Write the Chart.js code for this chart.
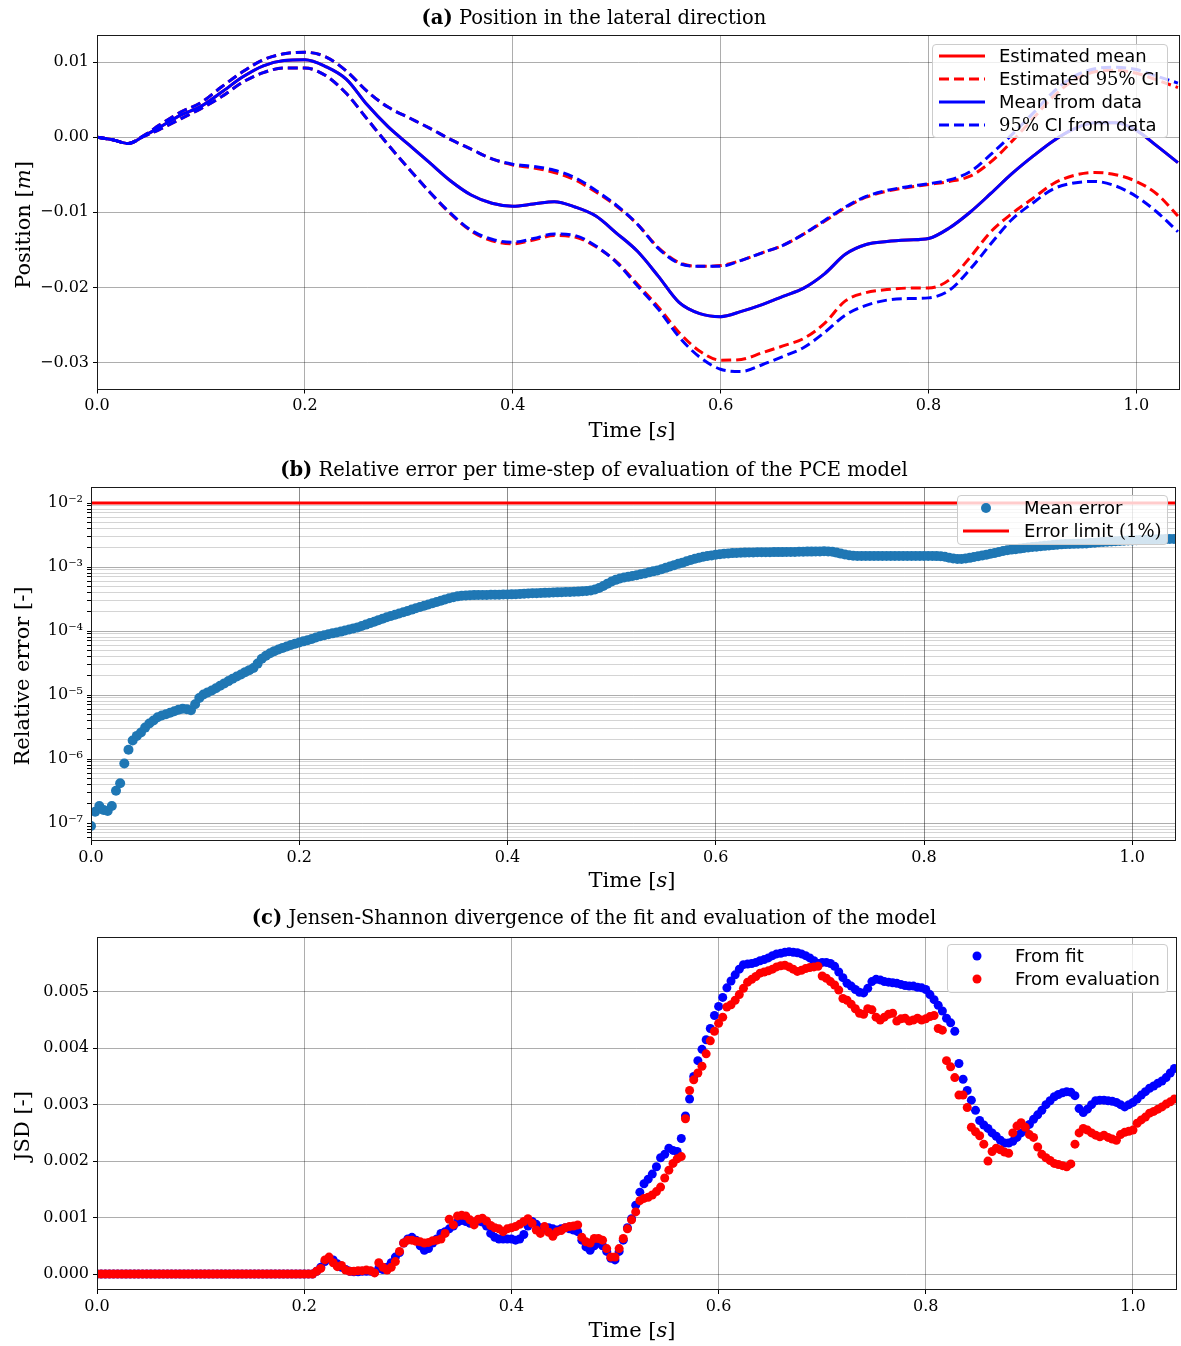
<!DOCTYPE html>
<html lang="en">
<head>
<meta charset="utf-8">
<title>PCE model evaluation</title>
<script src="https://cdn.jsdelivr.net/npm/chart.js@4.4.1/dist/chart.umd.min.js"></script>
<style>
  body { margin: 0; background: #fff; }
  #figure { position: relative; width: 1181px; height: 1346px; overflow: hidden; font-family: "DejaVu Serif", serif; color: #000; }
  #figure canvas { position: absolute; left: 0; }
  .txt { position: absolute; white-space: nowrap; transform: translate(-50%, -50%); line-height: 1; }
  .title { font-size: 19.5px; }
  .xlabel, .ylabel { font-size: 21px; }
  .ylabel { transform: translate(-50%, -50%) rotate(-90deg); }
  .legend { position: absolute; z-index: 2; box-sizing: border-box; background: rgba(255, 255, 255, 0.8); border: 1px solid #cccccc; border-radius: 4px; font-family: "DejaVu Sans", sans-serif; font-size: 18px; }
  .legend .row { position: absolute; left: 0; height: 22px; line-height: 22px; white-space: nowrap; }
  .legend svg, .legend .label { position: absolute; top: 0; }
  .math { font-family: "DejaVu Serif", serif; }
</style>
</head>
<body>
<div id="figure">
  <canvas id="posChart" width="1181" height="450" style="top:0"></canvas>
  <canvas id="errChart" width="1181" height="450" style="top:450px"></canvas>
  <canvas id="jsdChart" width="1181" height="446" style="top:900px"></canvas>

  <div class="txt title" style="left:594px; top:18px"><b>(a)</b> Position in the lateral direction</div>
  <div class="txt title" style="left:594px; top:470px"><b>(b)</b> Relative error per time-step of evaluation of the PCE model</div>
  <div class="txt title" style="left:594px; top:918px"><b>(c)</b> Jensen-Shannon divergence of the fit and evaluation of the model</div>

  <div class="txt xlabel" style="left:632px; top:430px">Time [<i>s</i>]</div>
  <div class="txt xlabel" style="left:632px; top:880px">Time [<i>s</i>]</div>
  <div class="txt xlabel" style="left:632px; top:1330px">Time [<i>s</i>]</div>

  <div class="txt ylabel" style="left:23px; top:225px">Position [<i>m</i>]</div>
  <div class="txt ylabel" style="left:22px; top:676px">Relative error [-]</div>
  <div class="txt ylabel" style="left:22px; top:1126px">JSD [-]</div>
</div>

<script>
// ---- (a) lateral position [m] ----
const timeA = [0, 0.015, 0.03, 0.045, 0.06,
  0.08, 0.1, 0.12, 0.14, 0.16, 0.18, 0.2, 0.22, 0.24, 0.26, 0.28, 0.3, 0.32, 0.34, 0.36, 0.38,
  0.4, 0.42, 0.44, 0.46, 0.48, 0.5, 0.52, 0.54, 0.56, 0.58, 0.6, 0.62, 0.64, 0.66, 0.68, 0.7,
  0.72, 0.74, 0.76, 0.78, 0.8, 0.82, 0.84, 0.86, 0.88, 0.9, 0.92, 0.94, 0.96, 0.98, 1, 1.02, 1.04];

const meanEst = [0, -0.00035, -0.00085, 0.00015, 0.0013,
  0.0029, 0.0041, 0.006, 0.008, 0.0095, 0.0102, 0.0103, 0.0094, 0.0077, 0.0043, 0.0014, -0.001, -0.0034, -0.0058, -0.0077, -0.0088,
  -0.0092, -0.0089, -0.0086, -0.0093, -0.0105, -0.0128, -0.0152, -0.0185, -0.022, -0.0235, -0.0239, -0.0232, -0.0223, -0.0212, -0.0201, -0.0182,
  -0.0156, -0.0143, -0.0139, -0.0137, -0.0135, -0.0121, -0.01, -0.0075, -0.0049, -0.0026, -0.0005, 0.0011, 0.0019, 0.0019, 0.0009, -0.0012, -0.0034];
const meanData = [0, -0.00035, -0.00085, 0.00015, 0.0013,
  0.0029, 0.0041, 0.006, 0.008, 0.0095, 0.0102, 0.0103, 0.0094, 0.0077, 0.0043, 0.0014, -0.001, -0.0034, -0.0058, -0.0077, -0.0088,
  -0.0092, -0.0089, -0.0086, -0.0093, -0.0105, -0.0128, -0.0152, -0.0185, -0.022, -0.0235, -0.0239, -0.0232, -0.0223, -0.0212, -0.0201, -0.0182,
  -0.0156, -0.0143, -0.0139, -0.0137, -0.0135, -0.0121, -0.01, -0.0075, -0.0049, -0.0026, -0.0005, 0.0011, 0.0019, 0.0019, 0.0009, -0.0012, -0.0034];

const upperEst = [0, -0.00035, -0.00085, 0.0002, 0.0016,
  0.0033, 0.0046, 0.0067, 0.0087, 0.0103, 0.0111, 0.0113, 0.0107, 0.0088, 0.0061, 0.004, 0.0026, 0.0012, -0.0003, -0.0016, -0.0029,
  -0.0037, -0.0041, -0.0047, -0.0057, -0.0073, -0.0092, -0.0116, -0.0147, -0.0167, -0.0172, -0.0171, -0.0164, -0.0154, -0.0144, -0.0129, -0.0112,
  -0.0094, -0.008, -0.0072, -0.0067, -0.0063, -0.0059, -0.0052, -0.0033, -0.0006, 0.0024, 0.0054, 0.0076, 0.0087, 0.0089, 0.0085, 0.0076, 0.0066];
const lowerEst = [0, -0.00035, -0.00085, 0.0001, 0.001,
  0.0024, 0.0038, 0.0054, 0.0073, 0.0086, 0.0092, 0.0092, 0.0082, 0.0058, 0.0024, -0.001, -0.0042, -0.0073, -0.0102, -0.0125, -0.0138,
  -0.0142, -0.0137, -0.0131, -0.0133, -0.0146, -0.0166, -0.0196, -0.0226, -0.026, -0.0285, -0.0297, -0.0296, -0.0287, -0.0278, -0.0268, -0.0248,
  -0.0218, -0.0207, -0.0203, -0.0201, -0.0201, -0.019, -0.016, -0.0126, -0.0102, -0.0082, -0.0062, -0.0051, -0.0047, -0.005, -0.0059, -0.0076, -0.0105];

const upperData = [0, -0.00035, -0.00085, 0.0002, 0.0016,
  0.0033, 0.0046, 0.0067, 0.0087, 0.0103, 0.0111, 0.0113, 0.0107, 0.0088, 0.0061, 0.004, 0.0026, 0.0012, -0.0003, -0.0016, -0.0029,
  -0.0036, -0.0039, -0.0044, -0.0054, -0.0071, -0.0091, -0.0116, -0.0148, -0.0168, -0.0172, -0.0172, -0.0164, -0.0154, -0.0144, -0.0129, -0.0111,
  -0.0093, -0.0079, -0.0071, -0.0066, -0.0062, -0.0057, -0.0046, -0.0023, 0.0003, 0.0031, 0.006, 0.0081, 0.0091, 0.0093, 0.009, 0.0081, 0.0072];
const lowerData = [0, -0.00035, -0.00085, 0.0001, 0.001,
  0.0024, 0.0038, 0.0054, 0.0073, 0.0086, 0.0092, 0.0092, 0.0082, 0.0058, 0.0024, -0.001, -0.0042, -0.0073, -0.0101, -0.0124, -0.0136,
  -0.014, -0.0135, -0.0129, -0.0131, -0.0145, -0.0167, -0.0198, -0.0229, -0.0266, -0.0293, -0.0309, -0.0312, -0.0303, -0.0292, -0.028, -0.026,
  -0.0237, -0.0224, -0.0217, -0.0215, -0.0214, -0.0204, -0.0176, -0.0142, -0.011, -0.0088, -0.0069, -0.0061, -0.0059, -0.0065, -0.0079, -0.01, -0.0126];

// ---- (b) and (c): one value per evaluation time step (dt = 0.004 s) ----
const timeSteps = Array.from({ length: 261 }, (_, i) => (i * 4) / 1000);

const meanError = [
  9.0e-8, 1.5e-7, 1.85e-7, 1.6e-7, 1.55e-7, 1.85e-7, 3.2e-7, 4.2e-7, 8.5e-7, 1.4e-6,
  1.95e-6, 2.3e-6, 2.6e-6, 3.1e-6, 3.6e-6, 4.0e-6, 4.5e-6, 4.8e-6, 5.0e-6, 5.3e-6,
  5.6e-6, 5.9e-6, 6.1e-6, 6.0e-6, 5.8e-6, 7.2e-6, 9.0e-6, 1.02e-5, 1.1e-5, 1.18e-5,
  1.28e-5, 1.4e-5, 1.52e-5, 1.65e-5, 1.8e-5, 1.95e-5, 2.1e-5, 2.28e-5, 2.45e-5, 2.65e-5,
  3.1e-5, 3.7e-5, 4.1e-5, 4.5e-5, 4.85e-5, 5.15e-5, 5.45e-5, 5.75e-5, 6.05e-5, 6.35e-5,
  6.6e-5, 6.9e-5, 7.2e-5, 7.5e-5, 7.9e-5, 8.3e-5, 8.6e-5, 8.9e-5, 9.2e-5, 9.5e-5,
  9.8e-5, 1.02e-4, 1.06e-4, 1.1e-4, 1.14e-4, 1.2e-4, 1.26e-4, 1.33e-4, 1.4e-4, 1.48e-4,
  1.56e-4, 1.64e-4, 1.72e-4, 1.8e-4, 1.88e-4, 1.97e-4, 2.06e-4, 2.16e-4, 2.27e-4, 2.38e-4,
  2.49e-4, 2.6e-4, 2.72e-4, 2.85e-4, 2.98e-4, 3.12e-4, 3.26e-4, 3.38e-4, 3.48e-4, 3.55e-4,
  3.6e-4, 3.62e-4, 3.64e-4, 3.65e-4, 3.66e-4, 3.67e-4, 3.68e-4, 3.69e-4, 3.7e-4, 3.71e-4,
  3.72e-4, 3.74e-4, 3.76e-4, 3.8e-4, 3.84e-4, 3.86e-4, 3.88e-4, 3.9e-4, 3.92e-4, 3.95e-4,
  3.98e-4, 4.0e-4, 4.02e-4, 4.04e-4, 4.06e-4, 4.08e-4, 4.1e-4, 4.13e-4, 4.17e-4, 4.22e-4,
  4.3e-4, 4.45e-4, 4.7e-4, 5.05e-4, 5.5e-4, 5.95e-4, 6.3e-4, 6.6e-4, 6.85e-4, 7.05e-4,
  7.25e-4, 7.45e-4, 7.7e-4, 7.95e-4, 8.25e-4, 8.55e-4, 8.85e-4, 9.25e-4, 9.7e-4, 1.02e-3,
  1.07e-3, 1.12e-3, 1.17e-3, 1.23e-3, 1.29e-3, 1.35e-3, 1.4e-3, 1.45e-3, 1.49e-3, 1.52e-3,
  1.55e-3, 1.58e-3, 1.61e-3, 1.63e-3, 1.65e-3, 1.66e-3, 1.67e-3, 1.68e-3, 1.69e-3, 1.69e-3,
  1.7e-3, 1.7e-3, 1.7e-3, 1.7e-3, 1.71e-3, 1.71e-3, 1.71e-3, 1.72e-3, 1.72e-3, 1.72e-3,
  1.73e-3, 1.73e-3, 1.74e-3, 1.74e-3, 1.75e-3, 1.75e-3, 1.76e-3, 1.75e-3, 1.73e-3, 1.68e-3,
  1.62e-3, 1.57e-3, 1.53e-3, 1.5e-3, 1.49e-3, 1.49e-3, 1.49e-3, 1.49e-3, 1.49e-3, 1.49e-3,
  1.49e-3, 1.49e-3, 1.49e-3, 1.49e-3, 1.49e-3, 1.49e-3, 1.49e-3, 1.49e-3, 1.49e-3, 1.49e-3,
  1.49e-3, 1.49e-3, 1.49e-3, 1.48e-3, 1.47e-3, 1.45e-3, 1.4e-3, 1.36e-3, 1.34e-3, 1.34e-3,
  1.36e-3, 1.39e-3, 1.43e-3, 1.47e-3, 1.51e-3, 1.56e-3, 1.61e-3, 1.66e-3, 1.72e-3, 1.78e-3,
  1.83e-3, 1.87e-3, 1.9e-3, 1.94e-3, 1.98e-3, 2.02e-3, 2.05e-3, 2.08e-3, 2.11e-3, 2.14e-3,
  2.17e-3, 2.2e-3, 2.23e-3, 2.26e-3, 2.28e-3, 2.29e-3, 2.3e-3, 2.31e-3, 2.32e-3, 2.34e-3,
  2.37e-3, 2.4e-3, 2.43e-3, 2.46e-3, 2.49e-3, 2.51e-3, 2.53e-3, 2.55e-3, 2.57e-3, 2.59e-3,
  2.6e-3, 2.62e-3, 2.64e-3, 2.66e-3, 2.68e-3, 2.7e-3, 2.71e-3, 2.72e-3, 2.73e-3, 2.74e-3, 2.75e-3];
const ERROR_LIMIT = 0.01;

// JSD values listed in units of 1e-3
const jsdFit = [
  0, 0, 0, 0, 0, 0, 0, 0, 0, 0,
  0, 0, 0, 0, 0, 0, 0, 0, 0, 0,
  0, 0, 0, 0, 0, 0, 0, 0, 0, 0,
  0, 0, 0, 0, 0, 0, 0, 0, 0, 0,
  0, 0, 0, 0, 0, 0, 0, 0, 0, 0,
  0, 0, 0,
  0.05, 0.12, 0.22, 0.28, 0.25, 0.18, 0.12, 0.08, 0.05, 0.04,
  0.04, 0.05, 0.05, 0.05, 0.03, 0.1, 0.08, 0.12, 0.2, 0.3,
  0.38, 0.55, 0.62, 0.65, 0.6, 0.5, 0.42, 0.45, 0.55, 0.62,
  0.72, 0.75, 0.8, 0.85, 0.92, 0.95, 0.93, 0.9, 0.92, 0.94,
  0.92, 0.85, 0.72, 0.65, 0.62, 0.62, 0.62, 0.62, 0.6, 0.62,
  0.7, 0.85, 0.93, 0.88, 0.82, 0.8, 0.82, 0.8, 0.78, 0.8,
  0.82, 0.8, 0.78, 0.75, 0.6, 0.48, 0.42, 0.5, 0.55, 0.5,
  0.4, 0.28, 0.25, 0.4, 0.6, 0.82, 0.98, 1.22, 1.45, 1.6,
  1.68, 1.77, 1.9, 2.06, 2.12, 2.23, 2.19, 2.17, 2.4, 2.8,
  3.1, 3.5, 3.78, 3.98, 4.15, 4.35, 4.58, 4.74, 4.9, 5.07,
  5.19, 5.3, 5.4, 5.48, 5.49, 5.5, 5.52, 5.55, 5.57, 5.6,
  5.64, 5.67, 5.68, 5.7, 5.71, 5.7, 5.69, 5.67, 5.64, 5.6,
  5.55, 5.5, 5.52, 5.52, 5.5, 5.45, 5.35, 5.25, 5.15, 5.1,
  5.04, 4.99, 4.98, 5.06, 5.18, 5.22, 5.21, 5.18, 5.17, 5.16,
  5.15, 5.13, 5.11, 5.1, 5.1, 5.08, 5.07, 5.04, 4.95, 4.86,
  4.76, 4.66, 4.53, 4.45, 4.3, 3.73, 3.45, 3.25, 3.08, 2.9,
  2.72, 2.64, 2.58, 2.5, 2.44, 2.37, 2.32, 2.32, 2.35, 2.42,
  2.5, 2.55, 2.65, 2.74, 2.82, 2.9, 3.0, 3.07, 3.14, 3.18,
  3.21, 3.23, 3.22, 3.16, 2.93, 2.86, 2.92, 3.0, 3.07, 3.08,
  3.08, 3.07, 3.06, 3.04, 3.0, 2.96, 3.0, 3.04, 3.1, 3.17,
  3.23, 3.29, 3.33, 3.38, 3.42, 3.48, 3.56, 3.64];
const jsdEval = [
  0, 0, 0, 0, 0, 0, 0, 0, 0, 0,
  0, 0, 0, 0, 0, 0, 0, 0, 0, 0,
  0, 0, 0, 0, 0, 0, 0, 0, 0, 0,
  0, 0, 0, 0, 0, 0, 0, 0, 0, 0,
  0, 0, 0, 0, 0, 0, 0, 0, 0, 0,
  0, 0, 0,
  0.05, 0.1, 0.25, 0.3, 0.2, 0.13, 0.15, 0.07, 0.05, 0.05,
  0.06, 0.06, 0.07, 0.06, 0.02, 0.2, 0.12, 0.07, 0.12, 0.22,
  0.4, 0.55, 0.6, 0.6, 0.58, 0.57, 0.55, 0.56, 0.59, 0.6,
  0.62, 0.72, 0.97, 0.87, 1.03, 1.04, 1.03, 0.96, 0.87, 0.97,
  0.99, 0.94, 0.86, 0.82, 0.8, 0.75, 0.8, 0.82, 0.84, 0.88,
  0.93, 0.98, 0.9, 0.78, 0.72, 0.84, 0.74, 0.67, 0.75, 0.77,
  0.82, 0.84, 0.85, 0.87, 0.65, 0.57, 0.55, 0.63, 0.63, 0.6,
  0.45, 0.3, 0.3, 0.45, 0.63, 0.8, 0.96, 1.1, 1.3, 1.34,
  1.36, 1.4, 1.46, 1.54, 1.7, 1.84, 1.96, 2.04, 2.08, 2.75,
  3.25, 3.44, 3.56, 3.68, 3.9, 4.13, 4.3, 4.44, 4.55, 4.73,
  4.77, 4.85, 4.95, 5.06, 5.17, 5.22, 5.27, 5.33, 5.35, 5.37,
  5.4, 5.44, 5.46, 5.47, 5.44, 5.4, 5.36, 5.38, 5.41, 5.43,
  5.44, 5.45, 5.28, 5.24, 5.18, 5.12, 5.03, 4.88, 4.85, 4.78,
  4.7, 4.62, 4.6, 4.7, 4.68, 4.55, 4.5, 4.55, 4.6, 4.62,
  4.48, 4.52, 4.53, 4.48, 4.5, 4.53, 4.5, 4.52, 4.56, 4.58,
  4.35, 4.32, 3.78, 3.67, 3.48, 3.17, 3.17, 2.95, 2.6, 2.52,
  2.45, 2.3, 2.0, 2.17, 2.23, 2.2, 2.16, 2.14, 2.5, 2.62,
  2.68, 2.6, 2.47, 2.42, 2.25, 2.12, 2.06, 2.01, 1.96, 1.94,
  1.92, 1.9, 1.95, 2.3, 2.5, 2.58, 2.55, 2.5, 2.46, 2.43,
  2.46, 2.42, 2.39, 2.37, 2.47, 2.51, 2.53, 2.55, 2.67, 2.73,
  2.78, 2.85, 2.88, 2.92, 2.96, 3.01, 3.05, 3.1];

// ---- tick positions ----
const xTicks = [0, 0.2, 0.4, 0.6, 0.8, 1.0];
const posTicks = [-0.03, -0.02, -0.01, 0, 0.01];
const jsdTicks = [0, 0.001, 0.002, 0.003, 0.004, 0.005];
const errDecades = [-8, -7, -6, -5, -4, -3, -2];

const X_MAX = 1.042;
const ERR_MIN = Math.pow(10, -7.28);
const ERR_MAX = Math.pow(10, -1.75);

Chart.defaults.font.family = '"DejaVu Serif", serif';
Chart.defaults.color = '#000';

const tickFont = { family: '"DejaVu Serif", serif', size: 16 };
const SUP = { '-': '\u207b', '0': '\u2070', '1': '\u00b9', '2': '\u00b2', '3': '\u00b3', '4': '\u2074', '5': '\u2075', '6': '\u2076', '7': '\u2077', '8': '\u2078', '9': '\u2079' };
const sup = n => String(n).split('').map(c => SUP[c]).join('');
const minus = s => s.replace('-', '\u2212');
const pts = (xs, ys, k = 1) => ys.map((y, i) => ({ x: xs[i], y: y * k }));

// black box around the plotting area, like axis spines
const frame = {
  id: 'frame',
  afterDraw(chart) {
    const { ctx, chartArea: a } = chart;
    ctx.save();
    ctx.strokeStyle = '#1a1a1a';
    ctx.lineWidth = 1;
    ctx.strokeRect(Math.round(a.left) + 0.5, Math.round(a.top) + 0.5,
      Math.round(a.right - a.left) - 1, Math.round(a.bottom - a.top) - 1);
    ctx.restore();
  }
};

function xAxis(gridColor) {
  return {
    type: 'linear',
    min: 0,
    max: X_MAX,
    afterBuildTicks: s => { s.ticks = xTicks.map(value => ({ value })); },
    afterFit: s => { s.height = 30; },
    ticks: { autoSkip: false, maxRotation: 0, padding: 3, font: tickFont, callback: v => v.toFixed(1) },
    grid: { color: gridColor, tickColor: '#000', tickLength: 4 },
    border: { display: false }
  };
}

function baseOptions(padding, scales) {
  return {
    responsive: false,
    animation: false,
    devicePixelRatio: 1,
    events: [],
    layout: { padding },
    plugins: { legend: { display: false }, tooltip: { enabled: false } },
    scales
  };
}

// (a) position
const posChart = new Chart(document.getElementById('posChart'), {
  type: 'line',
  data: {
    datasets: [
      { label: 'Mean from data', data: pts(timeA, meanData), borderColor: '#0000ff', borderWidth: 3, order: 1 },
      { label: '95% CI from data', data: pts(timeA, upperData), borderColor: '#0000ff', borderWidth: 3, borderDash: [10, 5], order: 1 },
      { label: '95% CI from data (lower)', data: pts(timeA, lowerData), borderColor: '#0000ff', borderWidth: 3, borderDash: [10, 5], order: 1 },
      { label: 'Estimated mean', data: pts(timeA, meanEst), borderColor: '#ff0000', borderWidth: 3, order: 2 },
      { label: 'Estimated 95% CI', data: pts(timeA, upperEst), borderColor: '#ff0000', borderWidth: 3, borderDash: [10, 5], order: 2 },
      { label: 'Estimated 95% CI (lower)', data: pts(timeA, lowerEst), borderColor: '#ff0000', borderWidth: 3, borderDash: [10, 5], order: 2 }
    ].map(d => Object.assign(d, { pointRadius: 0, fill: false, cubicInterpolationMode: 'monotone' }))
  },
  options: baseOptions({ top: 35, right: 1, bottom: 30.5, left: 0 }, {
    x: xAxis('rgba(0,0,0,0.32)'),
    y: {
      type: 'linear',
      min: -0.0336,
      max: 0.0136,
      afterBuildTicks: s => { s.ticks = posTicks.map(value => ({ value })); },
      afterFit: s => { s.width = 97; },
      ticks: { autoSkip: false, padding: 4, font: tickFont, callback: v => minus(v.toFixed(2)) },
      grid: { color: 'rgba(0,0,0,0.32)', tickColor: '#000', tickLength: 4 },
      border: { display: false }
    }
  }),
  plugins: [frame]
});

// (b) relative error, log scale
const errTicks = [];
errDecades.forEach(e => {
  for (let k = 1; k <= 9; k++) {
    const v = k * Math.pow(10, e);
    if (v >= ERR_MIN && v <= ERR_MAX) errTicks.push({ value: v, major: k === 1 });
  }
});
const isDecade = v => Math.abs(Math.log10(v) - Math.round(Math.log10(v))) < 1e-9;

const errChart = new Chart(document.getElementById('errChart'), {
  type: 'line',
  data: {
    datasets: [
      { label: 'Error limit (1%)', data: [{ x: 0, y: ERROR_LIMIT }, { x: X_MAX, y: ERROR_LIMIT }], borderColor: '#ff0000', borderWidth: 3, pointRadius: 0, order: 0 },
      { label: 'Mean error', data: pts(timeSteps, meanError), showLine: false, pointRadius: 5, pointBorderWidth: 0, backgroundColor: '#1f77b4', borderColor: '#1f77b4', order: 1 }
    ]
  },
  options: baseOptions({ top: 37, right: 1, bottom: 29, left: 0 }, {
    x: xAxis('rgba(0,0,0,0.45)'),
    y: {
      type: 'logarithmic',
      min: ERR_MIN,
      max: ERR_MAX,
      afterBuildTicks: s => { s.ticks = errTicks.map(t => ({ value: t.value })); },
      afterFit: s => { s.width = 91; },
      ticks: {
        autoSkip: false, padding: 4, font: tickFont,
        callback: v => isDecade(v) ? '10' + sup(Math.round(Math.log10(v))) : ''
      },
      grid: {
        color: c => (c.tick && isDecade(c.tick.value)) ? 'rgba(0,0,0,0.32)' : 'rgba(0,0,0,0.17)',
        tickColor: '#000',
        tickLength: 4
      },
      border: { display: false }
    }
  }),
  plugins: [frame]
});

// (c) Jensen-Shannon divergence
const jsdChart = new Chart(document.getElementById('jsdChart'), {
  type: 'line',
  data: {
    datasets: [
      { label: 'From evaluation', data: pts(timeSteps, jsdEval, 1e-3), backgroundColor: '#ff0000', borderColor: '#ff0000', order: 0 },
      { label: 'From fit', data: pts(timeSteps, jsdFit, 1e-3), backgroundColor: '#0000ff', borderColor: '#0000ff', order: 1 }
    ].map(d => Object.assign(d, { showLine: false, pointRadius: 4.5, pointBorderWidth: 0 }))
  },
  options: baseOptions({ top: 37, right: 1, bottom: 26, left: 0 }, {
    x: xAxis('rgba(0,0,0,0.32)'),
    y: {
      type: 'linear',
      min: -0.000283,
      max: 0.00597,
      afterBuildTicks: s => { s.ticks = jsdTicks.map(value => ({ value })); },
      afterFit: s => { s.width = 97; },
      ticks: { autoSkip: false, padding: 4, font: tickFont, callback: v => v.toFixed(3) },
      grid: { color: 'rgba(0,0,0,0.32)', tickColor: '#000', tickLength: 4 },
      border: { display: false }
    }
  }),
  plugins: [frame]
});

// legends drawn as boxes inside the upper-right corner of each panel
function addLegend(chart, box, entries) {
  const el = document.createElement('div');
  el.className = 'legend';
  Object.assign(el.style, { left: box.left + 'px', top: box.top + 'px', width: box.width + 'px', height: box.height + 'px' });
  entries.forEach((entry, row) => {
    const ds = chart.data.datasets.find(d => d.label === entry.label);
    let mark;
    if (ds.showLine === false) {
      mark = `<circle cx="23" cy="11" r="${ds.pointRadius}" fill="${ds.backgroundColor}"/>`;
    } else {
      const dash = ds.borderDash ? ` stroke-dasharray="${ds.borderDash.join(' ')}"` : '';
      mark = `<line x1="0" y1="11" x2="46" y2="11" stroke="${ds.borderColor}" stroke-width="${ds.borderWidth}"${dash}/>`;
    }
    const r = document.createElement('div');
    r.className = 'row';
    r.style.top = (box.firstRow + row * box.rowGap - 11) + 'px';
    r.innerHTML = `<svg width="46" height="22" style="left:${box.sampleX}px">${mark}</svg>` +
      `<span class="label" style="left:${box.textX}px">${entry.html}</span>`;
    el.appendChild(r);
  });
  document.getElementById('figure').appendChild(el);
}

addLegend(posChart, { left: 932, top: 44, width: 236, height: 94, firstRow: 11, rowGap: 23, sampleX: 6, textX: 66 }, [
  { label: 'Estimated mean', html: 'Estimated mean' },
  { label: 'Estimated 95% CI', html: 'Estimated <span class="math">95%</span> CI' },
  { label: 'Mean from data', html: 'Mean from data' },
  { label: '95% CI from data', html: '<span class="math">95%</span> CI from data' }
]);
addLegend(errChart, { left: 957, top: 495, width: 211, height: 50, firstRow: 11.5, rowGap: 23.5, sampleX: 5, textX: 66 }, [
  { label: 'Mean error', html: 'Mean error' },
  { label: 'Error limit (1%)', html: 'Error limit <span class="math">(1%)</span>' }
]);
addLegend(jsdChart, { left: 947, top: 944, width: 221, height: 49, firstRow: 11, rowGap: 22.7, sampleX: 6, textX: 67 }, [
  { label: 'From fit', html: 'From fit' },
  { label: 'From evaluation', html: 'From evaluation' }
]);
</script>
</body>
</html>
